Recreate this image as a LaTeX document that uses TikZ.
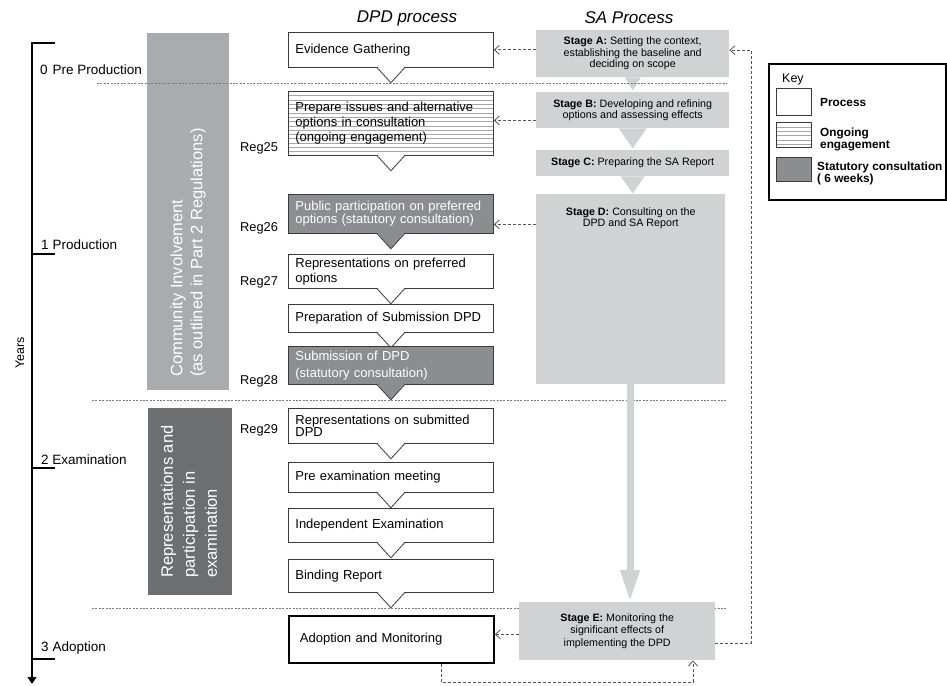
\documentclass[tikz,border=0pt]{standalone}
\usepackage{fontspec}
\setmainfont{Liberation Sans}
\usetikzlibrary{arrows.meta,calc}
\definecolor{sagray}{HTML}{D1D2D4}
\definecolor{commgray}{HTML}{A9ABAE}
\definecolor{repgray}{HTML}{6D6E71}
\definecolor{statgray}{HTML}{8C8D90}
\definecolor{boxline}{HTML}{3A3A3A}
\definecolor{hatchgray}{HTML}{A6A6A6}
\definecolor{dashgray}{HTML}{555555}
\definecolor{sepgray}{HTML}{7A7A7A}
\newcommand\fsz[2]{\fontsize{#1}{#2}\selectfont}
\newcommand\dnotch[2]{%
  \fill[#2] ([xshift=-13.6pt,yshift=0.9pt]#1.south) -- ([yshift=-15pt]#1.south) -- ([xshift=13.6pt,yshift=0.9pt]#1.south) -- cycle;
  \draw[draw=boxline, line width=0.8pt] ([xshift=-14pt,yshift=0.4pt]#1.south) -- ([yshift=-15pt]#1.south) -- ([xshift=14pt,yshift=0.4pt]#1.south);}
\tikzset{
  dpdbox/.style={draw=boxline, line width=0.8pt, fill=white, anchor=north west, minimum width=205pt, text width=191pt, inner xsep=7pt, inner ysep=0pt, align=left, font=\fsz{13}{15}},
  statbox/.style={dpdbox, fill=statgray, text=white},
  hatchfill/.style={path picture={\foreach \k in {1,...,40}{\draw[hatchgray, line width=0.6pt] ([yshift=-\k*4.3pt]path picture bounding box.north west) -- ++(300pt,0pt);}}},
  sabox/.style={fill=sagray, anchor=north west, inner sep=0pt, align=center, font=\fsz{10.7}{11.5}},
  dasharrow/.style={draw=dashgray, line width=0.8pt, dash pattern=on 3pt off 2pt, -{Straight Barb[length=5pt,width=9pt]}},
  sepline/.style={draw=sepgray, line width=0.9pt, dash pattern=on 2pt off 1.4pt},
  barbox/.style={anchor=north west, inner sep=0pt},
  bartext/.style={rotate=90, anchor=west, align=left, text=white, inner sep=0pt, font=\fsz{16.5}{20}},
  tl/.style={anchor=west, inner sep=0pt, font=\fsz{13.5}{15}},
  reglab/.style={anchor=west, inner sep=0pt, font=\fsz{12.8}{14}},
  swatch/.style={draw=boxline, line width=1.3pt, anchor=north west, minimum width=35pt, inner sep=0pt},
  keylab/.style={anchor=west, inner sep=0pt, align=left, font=\fsz{11.8}{12}\bfseries},
}
\begin{document}
\begin{tikzpicture}[x=1pt,y=-1pt]
\useasboundingbox (0,0) rectangle (947,685);
\fill[white] (0,0) rectangle (947,685);

% side bars
\node[barbox, fill=commgray, minimum width=82pt, minimum height=357pt] (comm) at (147,33) {};
\node[bartext] (commtxt) at (188,377) {Community Involvement\\(as outlined in Part 2 Regulations)};
\node[barbox, fill=repgray, minimum width=84pt, minimum height=187pt] (repbar) at (148,408) {};
\node[bartext, font=\fsz{16.5}{22}] (reptxt) at (189,578) {Representations and\\participation in\\examination};

% timeline
\draw[line width=1.2pt, -{Triangle[length=7pt,width=9pt]}] (55,43) -- (32,43) -- (32,684);
\draw[line width=1.2pt] (32,254) -- (55,254) (32,468) -- (55,468) (32,659) -- (55,659);
\node[tl] (t0) at (40,70) {0\hspace{5pt}Pre Production};
\node[tl] (t1) at (41,245) {1\hspace{4pt}Production};
\node[tl] (t2) at (41,460) {2 Examination};
\node[tl] (t3) at (41,648) {3\hspace{4pt}Adoption};
\node[rotate=90, inner sep=0pt, font=\fsz{12.5}{14}] (years) at (20,353) {Years};

% titles
\node[font=\fsz{17}{19}\itshape] (dpdt) at (407,18) {DPD process};
\node[font=\fsz{17}{19}\itshape] (sat) at (629,18) {SA Process};

% reg labels
\node[reglab] (r25) at (240,148) {Reg25};
\node[reglab] (r26) at (240,228) {Reg26};
\node[reglab] (r27) at (240,282) {Reg27};
\node[reglab] (r28) at (240,381) {Reg28};
\node[reglab] (r29) at (240,430) {Reg29};

% DPD process boxes
\node[dpdbox, minimum height=35pt] (ev) at (288,32) {Evidence Gathering};
\dnotch{ev}{white}
\node[dpdbox, hatchfill, minimum height=64pt] (prep) at (288,91) {Prepare issues and alternative\\options in consultation\\(ongoing engagement)\\[6pt]};
\dnotch{prep}{white}
\node[statbox, minimum height=39pt, font=\fsz{13}{13}] (pub) at (288,194) {Public participation on preferred\\options (statutory consultation)};
\dnotch{pub}{statgray}
\node[dpdbox, minimum height=34pt, font=\fsz{13}{15.5}] (repp) at (288,254) {Representations on preferred\\options};
\dnotch{repp}{white}
\node[dpdbox, minimum height=28pt] (prepsub) at (288,304) {Preparation of Submission DPD};
\dnotch{prepsub}{white}
\node[statbox, minimum height=38pt, font=\fsz{13}{17}] (sub) at (288,346) {Submission of DPD\\(statutory consultation)};
\dnotch{sub}{statgray}
\node[dpdbox, minimum height=35pt, font=\fsz{13}{12}] (reps) at (288,408) {Representations on submitted\\DPD};
\dnotch{reps}{white}
\node[dpdbox, minimum height=30pt] (preex) at (288,462) {Pre examination meeting};
\dnotch{preex}{white}
\node[dpdbox, minimum height=34pt] (indep) at (288,508) {Independent Examination};
\dnotch{indep}{white}
\node[dpdbox, minimum height=33pt] (bind) at (288,559) {Binding Report};
\dnotch{bind}{white}
\node[dpdbox, draw=black, line width=1.8pt, minimum height=47pt, inner xsep=11pt, text width=183pt] (adopt) at (288,615) {Adoption and Monitoring};

% SA process
\node[sabox, minimum width=193pt, minimum height=47pt] (saA) at (536,30) {\textbf{Stage A:} Setting the context,\\establishing the baseline and\\deciding on scope};
\node[sabox, minimum width=193pt, minimum height=36pt] (saB) at (536,92) {\textbf{Stage B:} Developing and refining\\options and assessing effects};
\node[sabox, minimum width=193pt, minimum height=26pt] (saC) at (536,150) {\textbf{Stage C:} Preparing the SA Report};
\node[sabox, minimum width=189pt, minimum height=190pt] (saD) at (536,194) {};
\coordinate (dty) at (0,218);
\node[align=center, inner sep=0pt, font=\fsz{10.7}{11.5}] (saDt) at (saD.north |- dty) {\textbf{Stage D:} Consulting on the\\DPD and SA Report};
\fill[sagray] ([xshift=-8pt]saA.south) -- ([xshift=8pt]saA.south) -- ([yshift=-13pt]saA.south) -- cycle;
\fill[sagray] ([xshift=-14pt]saB.south) -- ([xshift=14pt]saB.south) -- ([yshift=-20pt]saB.south) -- cycle;
\fill[sagray] ([xshift=-12pt]saC.south) -- ([xshift=12pt]saC.south) -- ([yshift=-17pt]saC.south) -- cycle;

% separators
\draw[sepline] (97,83) -- (727,83);
\draw[sepline] (92,400) -- (727,400);
\draw[sepline] (92,608) -- (727,608);

\node[sabox, minimum width=196pt, minimum height=58pt, font=\fsz{10.7}{12.5}] (saE) at (519,602) {\textbf{Stage E:} Monitoring the\\significant effects of\\implementing the DPD};

% big arrow D -> E
\coordinate (bigx) at (630,0);
\draw[draw=sagray, line width=7pt, -{Triangle[length=32pt,width=18pt]}] (saD.south -| bigx) -- (saE.north -| bigx);

% dashed arrows SA -> DPD
\draw[dasharrow] (saA.west |- ev.east) -- (ev.east);
\coordinate (pA) at ([yshift=3pt]prep.east);
\draw[dasharrow] (saB.west |- pA) -- (pA);
\coordinate (pB) at ([yshift=-10.5pt]pub.east);
\draw[dasharrow] (saD.west |- pB) -- (pB);
\coordinate (pC) at ([yshift=5pt]adopt.east);
\draw[dasharrow] (saE.west |- pC) -- (pC);

% feedback loops
\coordinate (lE) at ([yshift=-12pt]saE.east);
\coordinate (lR) at (751,0);
\coordinate (lA) at ([yshift=3.5pt]saA.east);
\draw[dasharrow] (lE) -- (lE -| lR) -- (lA -| lR) -- (lA);
\coordinate (bx1) at (441,682);
\coordinate (bx2) at (693,682);
\draw[dasharrow] (adopt.south -| bx1) -- (bx1) -- (bx2) -- (saE.south -| bx2);

% key
\node[draw=black, line width=1.8pt, anchor=north west, minimum width=177pt, minimum height=136pt, inner sep=0pt] (key) at (768,63) {};
\node[anchor=west, inner sep=0pt, font=\fsz{12.5}{14}] (keyt) at (782,79) {Key};
\node[swatch, fill=white, minimum height=27pt] (ks1) at (776,88) {};
\node[swatch, fill=white, hatchfill, minimum height=25pt] (ks2) at (776,122) {};
\node[swatch, fill=statgray, minimum height=24pt] (ks3) at (776,157) {};
\node[keylab] (kl1) at (820,102) {Process};
\node[keylab] (kl2) at (820,139) {Ongoing\\engagement};
\node[keylab] (kl3) at (817,173) {Statutory consultation\\( 6 weeks)};
\end{tikzpicture}
\end{document}
